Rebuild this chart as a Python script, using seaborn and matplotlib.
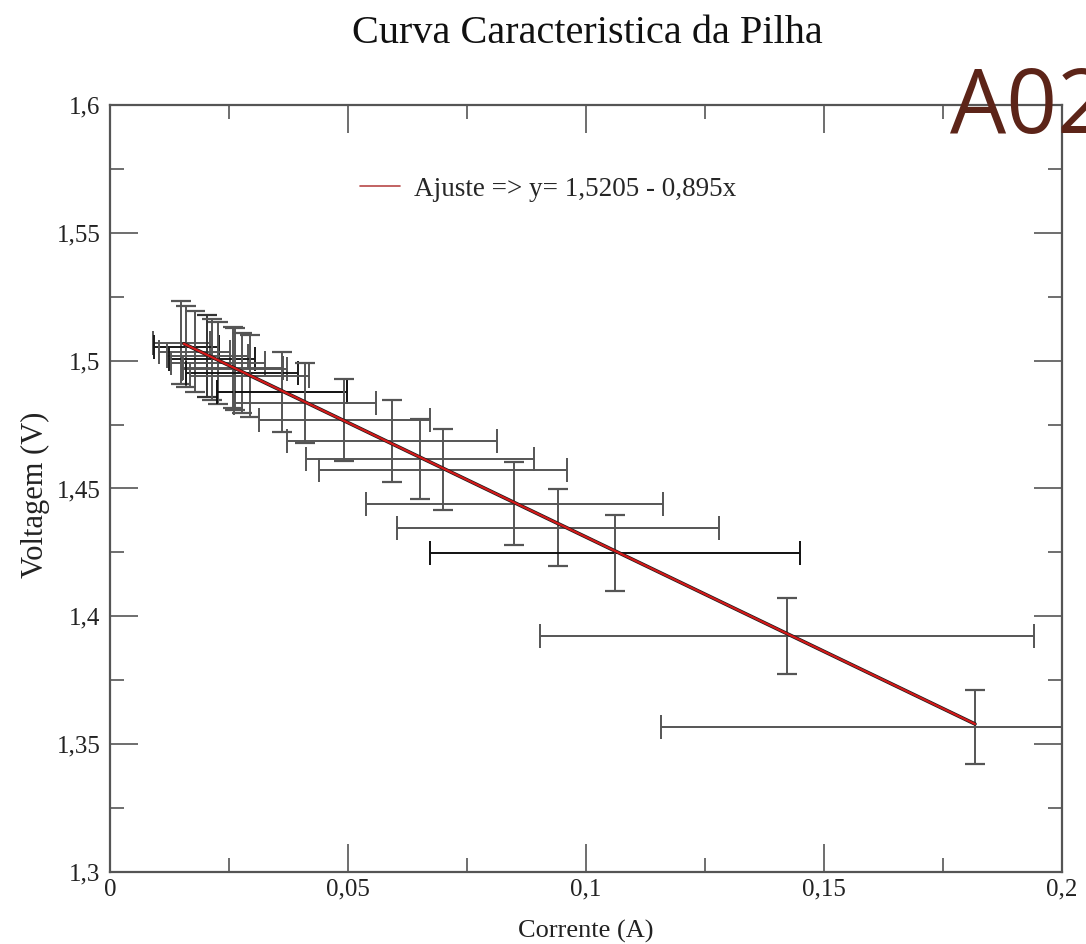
import numpy as np
import pandas as pd
import matplotlib
matplotlib.use("Agg")
import matplotlib.pyplot as plt
from matplotlib.ticker import FuncFormatter, MultipleLocator
import seaborn as sns

# Measured current (A) and voltage (V) with their uncertainties
corrente = [0.0150, 0.0160, 0.0178, 0.0204, 0.0214, 0.0227, 0.0258, 0.0262,
            0.0277, 0.0294, 0.0361, 0.0410, 0.0492, 0.0592, 0.0651, 0.0700,
            0.0849, 0.0941, 0.1061, 0.1422, 0.1817]
voltagem = [1.5070, 1.5055, 1.5035, 1.5018, 1.5005, 1.4990, 1.4972, 1.4968,
            1.4952, 1.4940, 1.4878, 1.4835, 1.4768, 1.4686, 1.4616, 1.4573,
            1.4440, 1.4346, 1.4248, 1.3923, 1.3567]
erro_corrente = [0.0060, 0.0068, 0.0075, 0.0085, 0.0090, 0.0098, 0.0105, 0.0110,
                 0.0118, 0.0125, 0.0137, 0.0149, 0.0180, 0.0220, 0.0240, 0.0260,
                 0.0312, 0.0339, 0.0389, 0.0519, 0.0660]
erro_voltagem = [0.0163, 0.0160, 0.0158, 0.0160, 0.0158, 0.0160, 0.0158, 0.0160,
                 0.0158, 0.0160, 0.0157, 0.0157, 0.0160, 0.0162, 0.0157, 0.0158,
                 0.0162, 0.0150, 0.0150, 0.0150, 0.0145]
# bar colours: horizontal (current) and vertical (voltage) whiskers
cor_x = ["#555555", "#1a1a1a", "#555555", "#555555", "#1a1a1a", "#555555",
         "#555555", "#555555", "#1a1a1a", "#555555", "#111111", "#555555",
         "#555555", "#555555", "#555555", "#555555", "#555555", "#555555",
         "#111111", "#555555", "#555555"]
cor_y = ["#555555", "#555555", "#555555", "#333333", "#555555", "#555555",
         "#555555", "#555555", "#555555", "#555555", "#555555", "#555555",
         "#555555", "#555555", "#555555", "#555555", "#555555", "#555555",
         "#555555", "#555555", "#555555"]

# Linear fit y = a + b x
intercepto = 1.5205
inclinacao = -0.895
legenda = "Ajuste => y= 1,5205 - 0,895x"

ajuste_x = np.array([min(corrente) + 0.0005, max(corrente)])
ajuste = pd.DataFrame({"I": ajuste_x, "V": intercepto + inclinacao * ajuste_x})

sns.set_style("ticks")
plt.rcParams["font.family"] = ["Liberation Serif", "DejaVu Serif"]

fig = plt.figure(figsize=(10.86, 9.44), dpi=100)
ax = fig.add_axes([0.1013, 0.0763, 0.8767, 0.8125])

for xi, yi, ex, ey, cx, cy in zip(corrente, voltagem, erro_corrente,
                                  erro_voltagem, cor_x, cor_y):
    ax.errorbar(xi, yi, xerr=ex, fmt="none", ecolor=cx,
                elinewidth=1.4, capsize=8.5, capthick=1.4, zorder=2)
    ax.errorbar(xi, yi, yerr=ey, fmt="none", ecolor=cy,
                elinewidth=1.4, capsize=7.5, capthick=1.6, zorder=2)

sns.lineplot(data=ajuste, x="I", y="V", ax=ax, color="#1a1a1a", linewidth=2.6,
             zorder=3, legend=False)
sns.lineplot(data=ajuste, x="I", y="V", ax=ax, color="#d41a1a", linewidth=1.6,
             zorder=4, label=legenda)

ax.set_xlim(0, 0.2)
ax.set_ylim(1.3, 1.6)
ax.xaxis.set_major_locator(MultipleLocator(0.05))
ax.xaxis.set_minor_locator(MultipleLocator(0.025))
ax.yaxis.set_major_locator(MultipleLocator(0.05))
ax.yaxis.set_minor_locator(MultipleLocator(0.025))

def virgula(v, pos):
    s = f"{v:.3f}".rstrip("0").rstrip(".")
    return s.replace(".", ",")

ax.xaxis.set_major_formatter(FuncFormatter(virgula))
ax.yaxis.set_major_formatter(FuncFormatter(virgula))
ax.tick_params(which="both", direction="in", top=True, right=True,
               colors="#555555", labelcolor="#222222", labelsize=18)
ax.tick_params(which="major", length=20, width=1.2)
ax.tick_params(axis="x", which="major", pad=5)
ax.tick_params(axis="y", which="major", pad=7)
ax.tick_params(which="minor", length=10, width=1.2)
for s in ax.spines.values():
    s.set_color("#555555")
    s.set_linewidth(1.6)

ax.set_xlabel("Corrente (A)", fontsize=19, color="#222222")
ax.xaxis.set_label_coords(0.5, -0.0775)
ax.xaxis.label.set_va("center")
ax.set_ylabel("Voltagem (V)", fontsize=22, color="#222222")
ax.yaxis.set_label_coords(-0.078, 0.4915)
ax.yaxis.label.set_va("center")

fig.text(0.5405, 0.965, "Curva Caracteristica da Pilha", ha="center", va="center",
         fontsize=29, color="#111111")

leg = ax.legend(loc="center left", bbox_to_anchor=(0.251, 0.89), borderaxespad=0,
                frameon=False, fontsize=19.5, handlelength=1.5, handletextpad=0.5)
for h in leg.get_lines():
    h.set_color("#b84848")
    h.set_linewidth(1.2)

# Panel tag in the top-right corner, running off the edge
fig.text(0.8748, 0.8595, "A02", fontsize=64, color="#5c2418",
         family=["Open Sans", "DejaVu Sans"], ha="left", va="baseline")

fig.savefig("out.png", dpi=100)
